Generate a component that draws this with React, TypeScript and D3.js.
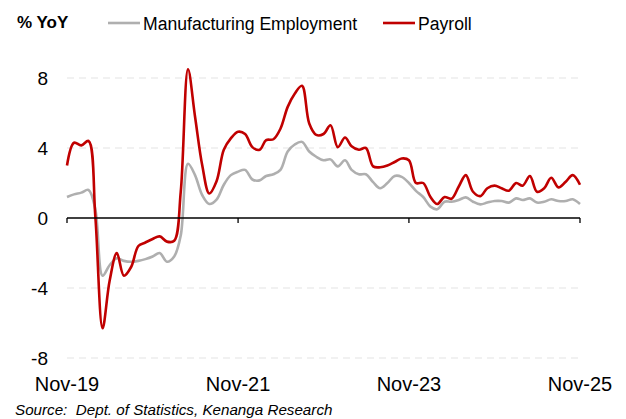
import { useEffect, useRef } from "react"
import * as d3 from "d3"

// monthly, Nov-19 .. Nov-25
const startMonth = new Date(2019, 10, 1)

const manufacturing = [
  1.2, 1.35, 1.45, 1.6, 0.5, -3.3, -2.7, -2.3, -2.45, -2.5, -2.45, -2.35, -2.2,
  -2.0, -2.5, -2.2, -1.0, 3.1, 2.45, 1.3, 0.8, 1.05, 1.9, 2.45, 2.65, 2.75,
  2.2, 2.15, 2.4, 2.5, 2.75, 3.8, 4.2, 4.35, 3.8, 3.5, 3.3, 3.35, 2.95, 3.3,
  2.75, 2.5, 2.5, 2.05, 1.7, 2.0, 2.4, 2.35, 2.0, 1.55, 1.2, 0.65, 0.5, 0.93,
  0.93, 1.03, 1.18, 0.93, 0.78, 0.88, 0.97, 0.97, 0.88, 1.12, 1.03, 1.12,
  0.88, 0.93, 1.07, 0.97, 0.97, 1.07, 0.8,
]

const payroll = [
  3.0, 4.3, 4.15, 4.4, 0.1, -6.3, -3.6, -2.0, -3.3, -2.8, -1.6, -1.4, -1.2,
  -1.05, -1.35, -1.3, 1.5, 8.5, 5.8, 3.0, 1.4, 2.1, 3.9, 4.55, 4.93, 4.8,
  4.05, 3.9, 4.45, 4.5, 5.1, 6.35, 7.1, 7.55, 5.4, 4.75, 4.8, 5.3, 4.05, 4.6,
  4.1, 3.9, 4.0, 2.95, 2.9, 3.0, 3.2, 3.4, 3.3, 2.0, 2.0, 1.2, 0.8, 1.2, 1.1,
  1.8, 2.45, 1.5, 1.25, 1.7, 1.85, 1.7, 1.56, 2.0, 1.85, 2.4, 1.5, 1.7, 2.3,
  1.75, 2.07, 2.45, 1.9,
]

const yTicks = [-8, -4, 0, 4, 8]
const xTickLabels = ["Nov-19", "Nov-21", "Nov-23", "Nov-25"]
const xTickIndex = [0, 24, 48, 72]

const seriesNames = ["Manufacturing Employment", "Payroll"]
const seriesColors = ["#AFAFAF", "#C00000"]

export default function App() {
  const svgRef = useRef<SVGSVGElement>(null)

  useEffect(() => {
    if (!svgRef.current) return
    const svg = d3.select(svgRef.current)
    svg.selectAll("*").remove()

    const width = 626
    const height = 419
    const font = "Liberation Sans, Arial, sans-serif"

    const dates = payroll.map((_, i) => d3.timeMonth.offset(startMonth, i))

    const x = d3.scaleTime()
      .domain([dates[0], dates[dates.length - 1]])
      .range([67, 580])
    const y = d3.scaleLinear().domain([-8, 8]).range([358, 78])

    // gridlines
    svg.append("g")
      .selectAll("line")
      .data(yTicks.filter(t => t !== 0))
      .enter()
      .append("line")
      .attr("x1", 67)
      .attr("x2", 580)
      .attr("y1", d => y(d))
      .attr("y2", d => y(d))
      .attr("stroke", "#E3E3E3")
      .attr("stroke-width", 1)
      .attr("stroke-dasharray", "7,5")

    // y labels
    svg.append("g")
      .selectAll("text")
      .data(yTicks)
      .enter()
      .append("text")
      .attr("x", 48)
      .attr("y", d => y(d) + 7)
      .attr("text-anchor", "end")
      .attr("font-family", font)
      .attr("font-size", "19px")
      .attr("fill", "#000")
      .text(d => d)

    // lines
    const line = d3.line<number>()
      .x((_, i) => x(dates[i]))
      .y(d => y(d))
      .curve(d3.curveCatmullRom.alpha(0.5))

    ;[manufacturing, payroll].forEach((s, k) => {
      svg.append("path")
        .datum(s)
        .attr("d", line)
        .attr("fill", "none")
        .attr("stroke", seriesColors[k])
        .attr("stroke-width", 2.6)
        .attr("stroke-linejoin", "round")
    })

    // x axis at zero
    const axis = svg.append("g")
    axis.append("line")
      .attr("x1", 67)
      .attr("x2", 580)
      .attr("y1", y(0))
      .attr("y2", y(0))
      .attr("stroke", "#000")
      .attr("stroke-width", 1.3)
    axis.selectAll(".tick")
      .data(xTickIndex)
      .enter()
      .append("line")
      .attr("x1", d => x(dates[d]))
      .attr("x2", d => x(dates[d]))
      .attr("y1", y(0))
      .attr("y2", y(0) + 5)
      .attr("stroke", "#000")
      .attr("stroke-width", 1.3)

    svg.append("g")
      .selectAll("text")
      .data(xTickIndex)
      .enter()
      .append("text")
      .attr("x", d => x(dates[d]))
      .attr("y", 391)
      .attr("text-anchor", "middle")
      .attr("font-family", font)
      .attr("font-size", "20px")
      .attr("fill", "#000")
      .text((_, i) => xTickLabels[i])

    // title + legend
    svg.append("text")
      .attr("x", 17)
      .attr("y", 28)
      .attr("font-family", font)
      .attr("font-size", "17px")
      .attr("font-weight", "bold")
      .text("% YoY")

    const legendX = [108, 383]
    seriesNames.forEach((name, k) => {
      svg.append("line")
        .attr("x1", legendX[k])
        .attr("x2", legendX[k] + 32)
        .attr("y1", 23)
        .attr("y2", 23)
        .attr("stroke", seriesColors[k])
        .attr("stroke-width", 2.6)
      svg.append("text")
        .attr("x", legendX[k] + 35)
        .attr("y", 30)
        .attr("font-family", font)
        .attr("font-size", "17.6px")
        .attr("fill", "#000")
        .text(name)
    })

    svg.append("text")
      .attr("x", 15)
      .attr("y", 415)
      .attr("font-family", font)
      .attr("font-size", "15.2px")
      .attr("font-style", "italic")
      .attr("xml:space", "preserve")
      .text("Source:  Dept. of Statistics, Kenanga Research")

    svg.attr("width", width).attr("height", height)
  }, [])

  return (
    <div style={{ position: "absolute", left: 0, top: 0 }}>
      <svg ref={svgRef} style={{ display: "block", background: "#fff" }} />
    </div>
  )
}
